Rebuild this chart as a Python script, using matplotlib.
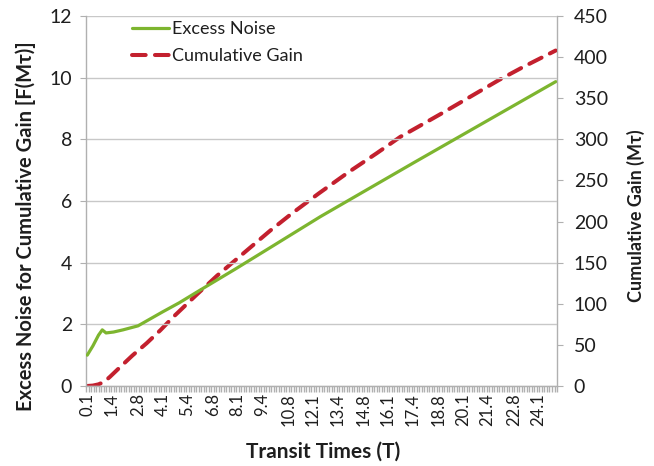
import numpy as np
import matplotlib
matplotlib.use("Agg")
import matplotlib.pyplot as plt
from matplotlib.ticker import FixedLocator, NullFormatter

plt.rcParams['font.family'] = ['Lato', 'DejaVu Sans']

# Transit-time samples (T) and the two curves
noise_t = [0.1, 0.4, 0.7, 0.9, 1.1, 1.5, 2.0, 2.8, 4.1, 5.0, 6.0, 8.0, 10.0,
           12.5, 15.0, 17.5, 20.0, 22.5, 25.03]
excess_noise = [1.0, 1.3, 1.65, 1.82, 1.72, 1.75, 1.82, 1.95, 2.40, 2.70, 3.07,
                3.80, 4.55, 5.49, 6.37, 7.25, 8.12, 8.99, 9.87]

gain_t = [0.1, 0.4, 0.7, 1.0, 1.3, 1.85, 2.5, 3.26, 4.0, 4.68, 5.92, 7.0, 8.6,
          9.84, 11.0, 12.41, 14.0, 15.5, 16.76, 18.0, 19.0, 20.5, 22.0, 23.3,
          25.03]
cumulative_gain = [0, 0.5, 2, 5, 11, 23, 37, 52, 68, 84, 111, 134, 165, 189,
                   210, 234, 260, 283, 303, 319, 332, 352, 372, 388, 408]

tick_labels = ["0.1", "1.4", "2.8", "4.1", "5.4", "6.8", "8.1", "9.4", "10.8",
               "12.1", "13.4", "14.8", "16.1", "17.4", "18.8", "20.1", "21.4",
               "22.8", "24.1"]

# category axis layout: 188 samples, 2/15 T apart
x0, step, n_cat = 0.1, 2 / 15, 188

green = "#7db52f"
red = "#c3202e"
grid_c = "#c8c8c8"
spine_c = "#b0b0b0"
text_c = "#1e1e1e"

fig = plt.figure(figsize=(6.54, 4.66), dpi=100)
ax = fig.add_axes([0.1315, 0.1717, 0.7202, 0.794])
ax2 = ax.twinx()

ax.set_zorder(ax2.get_zorder() + 1)
ax.patch.set_visible(False)

ln1, = ax.plot(noise_t, excess_noise, color=green, lw=2.3,
               solid_capstyle='round', label="Excess Noise", zorder=3)
ln2, = ax2.plot(gain_t, cumulative_gain, color=red, lw=2.9,
                linestyle=(0, (3.4, 2.3)), dash_capstyle='round',
                label="Cumulative Gain", zorder=3)

xmin = x0 - step / 2
xmax = x0 + (n_cat - 0.5) * step
ax.set_xlim(xmin, xmax)
ax.set_ylim(0, 12)
ax2.set_ylim(0, 450)

ax.set_yticks(np.arange(0, 13, 2))
ax2.set_yticks(np.arange(0, 451, 50))
ax.set_xticks([float(s) for s in tick_labels])
ax.set_xticklabels(tick_labels, rotation=90)
ax.xaxis.set_minor_locator(FixedLocator(xmin + np.arange(n_cat + 1) * step))
ax.xaxis.set_minor_formatter(NullFormatter())

ax.grid(axis='y', color=grid_c, lw=1.0)
ax.set_axisbelow(True)

for a in (ax, ax2):
    for s in a.spines.values():
        s.set_color(spine_c)
        s.set_linewidth(1.0)
    a.spines['top'].set_visible(False)
ax.spines['right'].set_visible(False)
ax2.spines['left'].set_visible(False)
ax2.spines['bottom'].set_visible(False)

ax.tick_params(axis='y', length=4, color=spine_c, labelsize=14,
               labelcolor=text_c, pad=6)
ax2.tick_params(axis='y', length=4, color=spine_c, labelsize=14,
                labelcolor=text_c, pad=8)
ax.tick_params(axis='x', which='major', length=0, labelsize=12,
               labelcolor=text_c, pad=5)
ax.tick_params(axis='x', which='minor', length=4, width=1.0, color=spine_c)

ax.set_xlabel("Transit Times (T)", fontsize=15, fontweight='bold',
              color=text_c, va='center')
ax.set_ylabel("Excess Noise for Cumulative Gain [F(Mτ)]", fontsize=14.5,
              fontweight='bold', color=text_c, va='center')
ax2.set_ylabel("Cumulative Gain (Mτ)", fontsize=13, fontweight='bold',
               color=text_c, va='center')
ax.xaxis.set_label_coords(0.504, -0.178)
ax.yaxis.set_label_coords(-0.127, 0.432)
ax2.yaxis.set_label_coords(1.168, 0.46)

leg = ax.legend(handles=[ln1, ln2], loc='upper left',
                bbox_to_anchor=(0.064, 1.03), frameon=False, fontsize=13,
                handlelength=2.05, handletextpad=0.12, labelspacing=0.6)
for t in leg.get_texts():
    t.set_color(text_c)

fig.savefig("out.png", dpi=100)
